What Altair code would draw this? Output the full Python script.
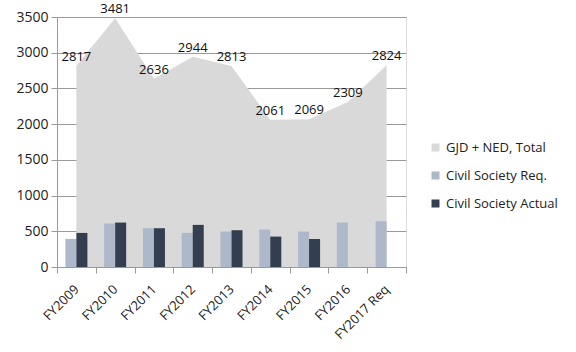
import altair as alt
import pandas as pd

years = ["FY2009", "FY2010", "FY2011", "FY2012", "FY2013", "FY2014", "FY2015", "FY2016", "FY2017 Req"]
total = [2817, 3481, 2636, 2944, 2813, 2061, 2069, 2309, 2824]
cs_req = [393, 608, 543, 477, 496, 524, 496, 622, 641]
cs_actual = [477, 622, 543, 590, 515, 426, 393, None, None]
y_ticks = [0, 500, 1000, 1500, 2000, 2500, 3000, 3500]

S_TOT = "GJD + NED, Total"
S_REQ = "Civil Society Req."
S_ACT = "Civil Society Actual"

rows = []
for i, y in enumerate(years):
    rows.append({"year": y, "series": S_TOT, "value": total[i]})
    rows.append({"year": y, "series": S_REQ, "value": cs_req[i]})
    if cs_actual[i] is not None:
        rows.append({"year": y, "series": S_ACT, "value": cs_actual[i]})
df = pd.DataFrame(rows)

FONT = "Open Sans"

x = alt.X("year:N", sort=years, title=None,
          scale=alt.Scale(paddingInner=0, paddingOuter=0),
          axis=alt.Axis(labelAngle=-45, labelAlign="right", labelBaseline="middle",
                        labelPadding=14, labelFontSize=13, labelFont=FONT, labelColor="#222",
                        tickBand="extent", tickSize=6, tickColor="#9a9a9a",
                        domainColor="#9a9a9a", grid=False, labelOverlap=False))
y = alt.Y("value:Q", title=None,
          scale=alt.Scale(domain=[0, 3500], nice=False),
          axis=alt.Axis(values=y_ticks, format="d",
                        labelOverlap=False, labelFlush=False,
                        labelFontSize=14, labelFont=FONT, labelColor="#222",
                        tickSize=6, tickColor="#9a9a9a", labelPadding=3,
                        domainColor="#9a9a9a", gridColor="#9a9a9a", grid=True))
color = alt.Color("series:N",
                  scale=alt.Scale(domain=[S_TOT, S_REQ, S_ACT],
                                  range=["#d9d9d9", "#adb9ca", "#333f50"]),
                  legend=alt.Legend(title=None, orient="none", legendX=372, legendY=124,
                                    symbolType="square", symbolSize=64, symbolStrokeWidth=0,
                                    labelFontSize=13, labelFont=FONT, labelColor="#222",
                                    rowPadding=14, labelOffset=4, labelLimit=200))

base = alt.Chart(df).encode(x=x, y=y)

area = base.transform_filter(alt.datum.series == S_TOT).mark_area(opacity=1).encode(
    color=color)

bars = base.transform_filter(alt.datum.series != S_TOT).mark_bar().encode(
    color=color,
    xOffset=alt.XOffset("series:N", sort=[S_REQ, S_ACT],
                        scale=alt.Scale(domain=[S_REQ, S_ACT], paddingInner=0, paddingOuter=0.76)))

labels = base.transform_filter(alt.datum.series == S_TOT).mark_text(
    baseline="bottom", dy=-2, fontSize=13, font=FONT, color="#111").encode(
    text="value:Q")

chart = alt.layer(area, bars, labels).properties(
    width=349, height=250,
    autosize=alt.AutoSizeParams(type="none"),
    padding={"left": 57, "top": 17, "right": 170, "bottom": 85},
).configure_view(stroke=None).configure(background="white")

chart.save("out.html", embed_options={"renderer": "svg", "actions": False})
